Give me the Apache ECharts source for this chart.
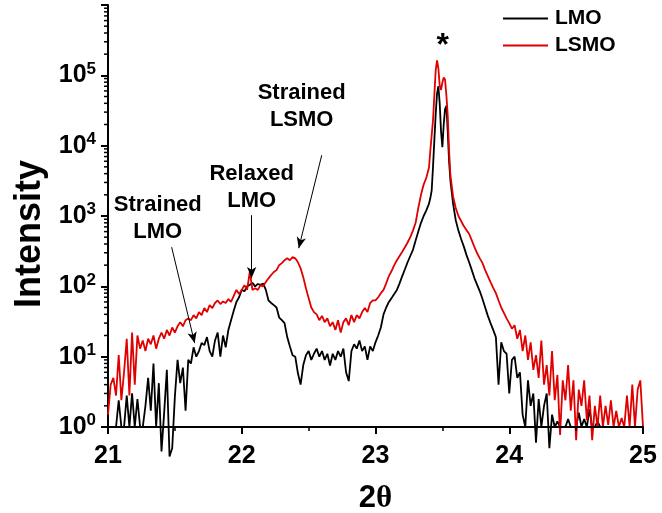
<!DOCTYPE html>
<html>
<head>
<meta charset="utf-8">
<script src="https://cdn.jsdelivr.net/npm/echarts@6/dist/echarts.min.js"></script>
<style>
html,body{margin:0;padding:0;background:#fff;}
#chart{width:662px;height:513px;}
</style>
</head>
<body>
<div id="chart"></div>
<script>
// ---- data ----
const twoTheta = [
21.00,21.02,21.04,21.06,21.08,21.10,21.12,21.14,21.16,21.18,
21.20,21.22,21.24,21.26,21.28,21.30,21.32,21.34,21.36,21.38,
21.40,21.42,21.44,21.46,21.48,21.50,21.52,21.54,21.56,21.58,
21.60,21.62,21.64,21.66,21.68,21.70,21.72,21.74,21.76,21.78,
21.80,21.82,21.84,21.86,21.88,21.90,21.92,21.94,21.96,21.98,
22.00,22.02,22.04,22.06,22.08,22.10,22.12,22.14,22.16,22.18,
22.20,22.22,22.24,22.26,22.28,22.30,22.32,22.34,22.36,22.38,
22.40,22.42,22.44,22.46,22.48,22.50,22.52,22.54,22.56,22.58,
22.60,22.62,22.64,22.66,22.68,22.70,22.72,22.74,22.76,22.78,
22.80,22.82,22.84,22.86,22.88,22.90,22.92,22.94,22.96,22.98,
23.00,23.02,23.04,23.06,23.08,23.10,23.12,23.14,23.16,23.18,
23.20,23.22,23.24,23.26,23.28,23.30,23.32,23.34,23.36,23.38,
23.40,23.41,23.42,23.43,23.44,23.45,23.46,23.47,23.48,23.49,
23.50,23.51,23.52,23.53,23.54,23.55,23.56,
23.58,23.60,23.62,23.64,23.66,23.68,23.70,23.72,23.74,23.76,
23.78,23.80,23.82,23.84,23.86,23.88,23.90,23.92,23.94,23.96,
23.98,24.00,24.02,24.04,24.06,24.08,24.10,24.12,24.14,24.16,
24.18,24.20,24.22,24.24,24.26,24.28,24.30,24.32,24.34,24.36,
24.38,24.40,24.42,24.44,24.46,24.48,24.50,24.52,24.54,24.56,
24.58,24.60,24.62,24.64,24.66,24.68,24.70,24.72,24.74,24.76,
24.78,24.80,24.82,24.84,24.86,24.88,24.90,24.92,24.94,24.96,
24.98,25.00
];

const lmo = [
1,1,1,1,2.4,1,1,2.8,1,3,
1,2.5,1,1,2,5,1.7,8,1,4.2,
0.45,1.6,6.5,0.38,0.5,2.7,9,4.2,7,1.7,
9,8,13.6,10,12,15.6,14.6,19,12,10,
17,22,10,20,13.6,24,33,45,60,70,
89,85,100,105,112,100,108,105,110,89,
63,58,54,50,36,33,30,19,14,10.5,
10,5.8,4,7.6,10.5,12,9,11,13,10,
12,9,11,7.5,11,9,12,10,13,6,
4.5,12,15,13,17,12,14,9,14,12,
16,20,26,40,50,60,68,78,89,110,
140,175,220,270,330,450,600,800,1000,1200,
1500,1800,2300,5000,12000,28000,55000,70000,40000,16000,
9500,20000,33000,37000,16000,6000,3200,
1500,870,620,470,370,280,220,170,130,105,
85,66,50,38,30,24,19,4,16,12,
11,3,9,10,5,6,1.5,1,4.6,2,
3,0.6,2.5,1,2,3,0.5,1.5,1,1.2,
1,1,1,1.3,1,1,1,1.6,1,1.3,
1,1.8,1,1,1.2,1,1,1,1,1,
1,1,1,1,1,1,1,1,1,1,
1,1
];

const lsmo = [
1.5,4,5,2.8,10.5,2.4,6,18,2.8,22,
4,20,13,17,12,18,15,20,13,18,
22,18,24,20,26,22,27,31,27,33,
35,33,39,35,43,39,49,43,54,49,
58,63,56,61,58,66,60,73,89,78,
89,104,89,160,89,94,89,104,100,115,
130,145,160,170,200,214,235,250,235,260,
250,220,180,135,94,68,50,43,40,33,
38,31,35,27,31,24,33,22,31,35,
28,39,31,39,35,43,49,43,58,63,
63,70,80,89,110,140,165,200,235,270,
310,360,420,500,620,800,1300,2000,2800,3500,
4900,8600,14000,23000,52000,118000,163000,126000,72000,62000,
79000,93000,87000,52000,27000,8600,3800,
1900,1300,1000,850,720,630,560,450,360,295,
250,214,170,140,115,95,80,63,50,42,
35,30,25,28,18,24,12,20,9,16,
6.5,10.5,5,17,4,7.6,2.8,12,2.4,5.5,
0.77,4.6,2.4,7.6,1.7,4.6,0.65,3.4,2.0,4.6,
1.25,2.8,0.65,2.0,1,2.8,1,2.0,1.07,2.4,
1,1.7,1,1.34,1,2.8,1,4,1,3.4,
4.6,1
];

const seriesNames = ['LMO', 'LSMO'];
const xTickValues = [21, 22, 23, 24, 25];
const yTickExponents = [0, 1, 2, 3, 4, 5];

// ---- chart ----
const FONT = 'Liberation Sans, Arial, sans-serif';
const chart = echarts.init(document.getElementById('chart'), null, {renderer: 'canvas'});

const minorTickData = [];
for (const e of yTickExponents) {
  for (let m = 2; m <= 9; m++) minorTickData.push([21, m * Math.pow(10, e)]);
}

const option = {
  animation: false,
  backgroundColor: '#ffffff',
  grid: {left: 108, right: 19, top: 5, bottom: 86, containLabel: false, outerBoundsMode: 'none'},
  legend: {
    data: seriesNames,
    orient: 'vertical',
    left: 498,
    top: 3,
    itemWidth: 45,
    itemHeight: 2,
    itemGap: 6,
    icon: 'rect',
    textStyle: {fontFamily: FONT, fontWeight: 'bold', fontSize: 21, color: '#000', padding: [0, 0, 0, 2]}
  },
  xAxis: {
    type: 'value',
    min: 21, max: 25, interval: 1,
    z: 5,
    axisLine: {show: true, onZero: false, lineStyle: {color: '#000', width: 2}},
    axisTick: {show: true, inside: false, length: 7, lineStyle: {color: '#000', width: 2}},
    minorTick: {show: true, splitNumber: 2, length: 4, lineStyle: {color: '#000', width: 1.5}},
    splitLine: {show: false},
    axisLabel: {
      fontFamily: FONT, fontWeight: 'bold', fontSize: 25, color: '#000', margin: 17,
      showMinLabel: true, showMaxLabel: true,
      formatter: v => xTickValues.includes(v) ? String(v) : ''
    },
    name: '{a|2}{b|θ}',
    nameLocation: 'middle',
    nameGap: 56,
    nameTextStyle: {
      rich: {
        a: {fontFamily: FONT, fontWeight: 'bold', fontSize: 31, color: '#000'},
        b: {fontFamily: 'Liberation Serif, Times New Roman, serif', fontWeight: 'bold', fontSize: 31, color: '#000'}
      }
    }
  },
  yAxis: {
    type: 'log',
    logBase: 10,
    min: 1, max: 1e6,
    axisLine: {show: true, onZero: false, lineStyle: {color: '#000', width: 2}},
    axisTick: {show: true, inside: false, length: 7, lineStyle: {color: '#000', width: 2}},
    splitLine: {show: false},
    axisLabel: {
      margin: 12,
      formatter: v => {
        const e = Math.round(Math.log10(v));
        if (!yTickExponents.includes(e)) return '';
        return '{b|10}{s|' + e + '}';
      },
      rich: {
        b: {fontFamily: FONT, fontWeight: 'bold', fontSize: 25, color: '#000', lineHeight: 30},
        s: {fontFamily: FONT, fontWeight: 'bold', fontSize: 17, color: '#000', verticalAlign: 'top', lineHeight: 17}
      }
    },
    name: 'Intensity',
    nameLocation: 'middle',
    nameGap: 58,
    nameTextStyle: {fontFamily: FONT, fontWeight: 'bold', fontSize: 36, color: '#000', padding: [0, 36, 0, 0]}
  },
  series: [
    {
      name: 'LMO', type: 'line', showSymbol: false, symbol: 'none', clip: false,
      color: '#000000',
      lineStyle: {color: '#000000', width: 1.8},
      data: twoTheta.map((x, i) => [x, lmo[i]]),
      z: 2
    },
    {
      name: 'LSMO', type: 'line', showSymbol: false, symbol: 'none', clip: false,
      color: '#e00000',
      lineStyle: {color: '#e00000', width: 1.8},
      data: twoTheta.map((x, i) => [x, lsmo[i]]),
      z: 3
    },
    {
      name: 'minorY', type: 'custom', silent: true, clip: false, z: 6,
      data: minorTickData,
      renderItem: (params, api) => {
        const p = api.coord([api.value(0), api.value(1)]);
        return {type: 'line', shape: {x1: p[0] - 4, y1: p[1], x2: p[0], y2: p[1]},
                style: {stroke: '#000', lineWidth: 1.5}};
      }
    },
    {
      name: 'annot', type: 'line', data: [], silent: true, z: 7,
      markLine: {
        silent: true,
        symbol: ['none', 'arrow'],
        symbolSize: [7, 11],
        label: {show: false},
        lineStyle: {color: '#000', width: 1, type: 'solid'},
        emphasis: {disabled: true},
        data: [
          [{coord: [21.476, 360]}, {coord: [21.648, 15.6]}],
          [{coord: [22.074, 1026]}, {coord: [22.074, 131]}],
          [{coord: [22.598, 7310]}, {coord: [22.426, 349]}]
        ]
      },
      markPoint: {
        silent: true,
        symbol: 'circle',
        symbolSize: 0,
        label: {
          show: true, position: 'inside', color: '#000',
          fontFamily: FONT, fontWeight: 'bold', fontSize: 22, lineHeight: 27, align: 'center'
        },
        data: [
          {coord: [21.372, 916], value: 'Strained\nLMO', label: {formatter: 'Strained\nLMO'}},
          {coord: [22.074, 2523], value: 'Relaxed\nLMO', label: {formatter: 'Relaxed\nLMO'}},
          {coord: [22.448, 35700], value: 'Strained\nLSMO', label: {formatter: 'Strained\nLSMO'}},
          {coord: [23.503, 258000], value: '*', label: {formatter: '*', fontSize: 32, lineHeight: 32}}
        ]
      }
    }
  ]
};
chart.setOption(option);
</script>
</body>
</html>
